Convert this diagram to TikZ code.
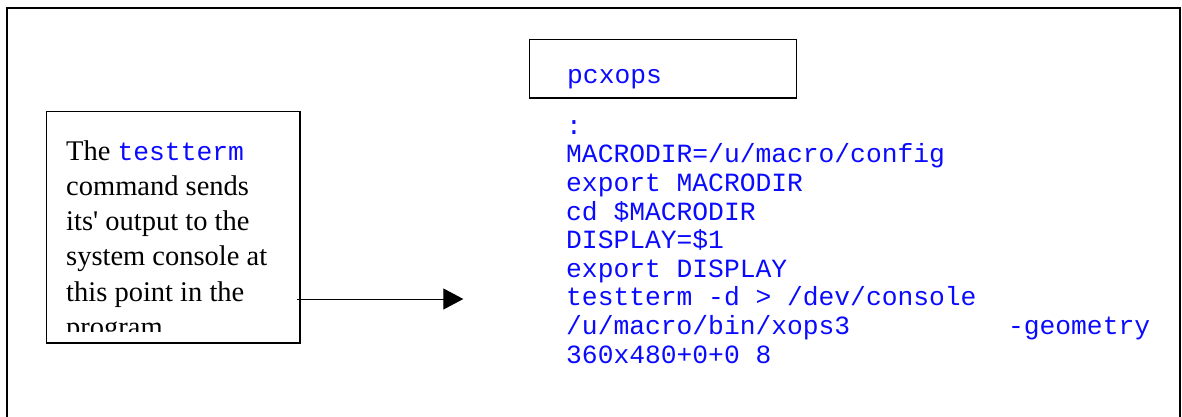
\documentclass[tikz,border=0pt]{standalone}
\usepackage{fontspec}
\setmainfont[Ligatures=TeXOff]{Liberation Serif}
\newfontfamily\codefont[Ligatures=TeXOff]{Liberation Mono}
\usetikzlibrary{arrows.meta}
\definecolor{codeblue}{RGB}{10,10,255}

\tikzset{
  outerframe/.style={line width=1.8pt, line join=miter},
  panel/.style={draw, line width=1.3pt, inner sep=0pt, anchor=north west},
  codeline/.style={anchor=base west, inner sep=0pt, text=codeblue,
    font=\codefont\fontsize{26.3}{28.6}\selectfont},
  noteline/.style={anchor=base west, inner sep=0pt,
    font=\fontsize{28.5}{35.3}\selectfont},
  link/.style={line width=1pt, -{Triangle[length=20pt,width=21pt]}}
}
\newcommand{\cmdname}[1]{{\codefont\fontsize{26.3}{28.6}\selectfont\color{codeblue}#1}}

\begin{document}
\begin{tikzpicture}[x=1pt, y=-1pt]
  \useasboundingbox (0,0) rectangle (1182,416);

  % surrounding frame, open at the bottom
  \draw[outerframe] (7,430) -- (7,8) -- (1180,8) -- (1180,430);

  % script name box
  \node[panel, minimum width=267pt, minimum height=58.8pt] (titlebox) at (529,38.5) {};
  \node[codeline] (title) at (567,83.3) {pcxops};

  % script body
  \node[codeline] (c1) at (566,134.3) {:};
  \node[codeline] (c2) at (566,162.9) {MACRODIR=/u/macro/config};
  \node[codeline] (c3) at (566,191.5) {export MACRODIR};
  \node[codeline] (c4) at (566,220.1) {cd \$MACRODIR};
  \node[codeline] (c5) at (566,248.7) {DISPLAY=\$1};
  \node[codeline] (c6) at (566,277.3) {export DISPLAY};
  \node[codeline] (c7) at (566,305.9) {testterm -d > /dev/console};
  \node[codeline] (c8) at (566,334.5) {/u/macro/bin/xops3\hspace{157.8pt}-geometry};
  \node[codeline] (c9) at (566,363.1) {360x480+0+0 8};

  % explanatory note box
  \node[panel, minimum width=253.6pt, minimum height=231.3pt] (note) at (45.7,111) {};
  \begin{scope}
    \clip (45.7,111) rectangle (299.3,331.7);
    \node[noteline] (n1) at (66,160.0) {The \cmdname{testterm}};
    \node[noteline] (n2) at (66,195.3) {command sends};
    \node[noteline] (n3) at (66,230.6) {its' output to the};
    \node[noteline] (n4) at (66,265.9) {system console at};
    \node[noteline] (n5) at (66,301.2) {this point in the};
    \node[noteline] (n6) at (66,336.5) {program};
  \end{scope}

  % pointer from the note to the script
  \coordinate (tip) at (463.3,299);
  \draw[link] ([xshift=-4pt]note.east |- tip) -- (tip);
\end{tikzpicture}
\end{document}
